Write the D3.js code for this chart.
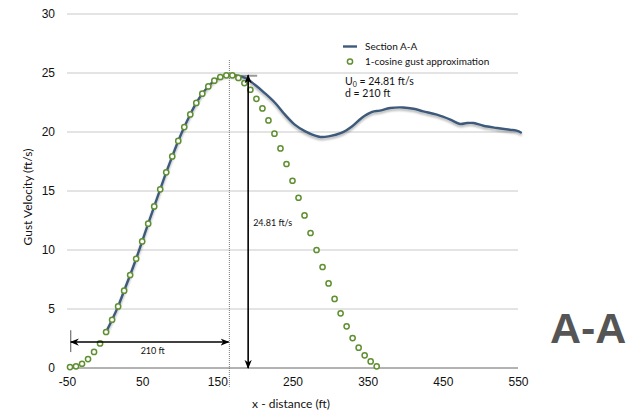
<!DOCTYPE html>
<html>
<head>
<meta charset="utf-8">
<script src="https://cdn.jsdelivr.net/npm/d3@7"></script>
<style>
  body { margin: 0; background: #fff; }
  svg { display: block; font-family: Lato, "Open Sans", sans-serif; }
  .tick text { font-size: 12px; fill: #111; }
</style>
</head>
<body>
<svg id="chart"></svg>
<script>
// 1-cosine approximation (circles)
const cosX = [-46, -38, -30, -22, -14, -6, 2, 10, 18, 26, 34, 42, 50, 58, 66, 74, 82, 90, 98, 106, 114, 122, 130, 138, 146, 154, 162,
  170, 178, 186, 194, 202, 210, 218, 226, 234, 242, 250, 258, 266, 274, 282, 290, 298, 306, 314, 322, 330, 338, 346, 354, 362];
const cosY = [0.08, 0.14, 0.36, 0.76, 1.36, 2.08, 3.05, 4.09, 5.22, 6.55, 7.88, 9.26, 10.73, 12.23, 13.69, 15.14, 16.58, 17.93, 19.24, 20.42, 21.49, 22.46, 23.25, 23.86, 24.35, 24.66, 24.80,
  24.80, 24.58, 24.15, 23.58, 22.81, 22.0, 20.98, 19.86, 18.61, 17.29, 15.87, 14.43, 12.93, 11.44, 10.0, 8.56, 7.17, 5.85, 4.63, 3.53, 2.54, 1.72, 1.07, 0.56, 0.14];

// Section A-A (solid line)
const secX = [2, 10, 18, 26, 34, 42, 50, 58, 66, 74, 82, 90, 98, 106, 114, 122, 130, 138, 146, 154, 162,
  172, 187, 200, 213, 227, 240, 253, 267, 280, 287, 298, 315, 329, 342, 356, 366, 380, 397, 411, 424, 442, 460, 473, 482, 491, 504, 522, 539, 548, 555];
const secY = [3.05, 4.09, 5.22, 6.55, 7.88, 9.26, 10.73, 12.23, 13.69, 15.14, 16.58, 17.93, 19.24, 20.42, 21.49, 22.46, 23.25, 23.86, 24.35, 24.66, 24.82,
  24.81, 24.58, 24.0, 23.3, 22.46, 21.47, 20.63, 20.05, 19.69, 19.58, 19.63, 19.92, 20.47, 21.19, 21.7, 21.81, 22.03, 22.08, 21.97, 21.75, 21.47, 21.05, 20.68, 20.76, 20.76, 20.53, 20.34, 20.19, 20.11, 19.92];

const xTicks = [-50, 50, 150, 250, 350, 450, 550];
const yTicks = [0, 5, 10, 15, 20, 25, 30];

const U0 = 24.81;       // peak gust velocity
const peakX = 166;      // dotted line through the peak
const gustStart = -45;  // start of the 210 ft span
const gustEnd = 165;
const arrowX = 191;     // vertical 24.81 arrow

const width = 635, height = 414;
const margin = { top: 14, right: 117, bottom: 46, left: 67 };
const innerW = width - margin.left - margin.right;
const innerH = height - margin.top - margin.bottom;

const svg = d3.select('#chart').attr('width', width).attr('height', height);

const x = d3.scaleLinear().domain([-50, 550]).range([0, innerW]);
const y = d3.scaleLinear().domain([0, 30]).range([innerH, 0]);

const defs = svg.append('defs');
const shadow = defs.append('filter').attr('id', 'shadow')
  .attr('x', '-5%').attr('y', '-5%').attr('width', '110%').attr('height', '120%');
shadow.append('feDropShadow')
  .attr('dx', 0).attr('dy', 2).attr('stdDeviation', 1.2)
  .attr('flood-color', '#000').attr('flood-opacity', 0.3);

['start', 'end'].forEach(k => {
  defs.append('marker')
    .attr('id', 'arrow-' + k)
    .attr('viewBox', '0 0 10 10')
    .attr('refX', k === 'end' ? 9 : 1).attr('refY', 5)
    .attr('markerWidth', 9).attr('markerHeight', 9)
    .attr('markerUnits', 'userSpaceOnUse')
    .attr('orient', 'auto')
    .append('path')
    .attr('d', k === 'end' ? 'M0,1 L10,5 L0,9 L3,5 Z' : 'M10,1 L0,5 L10,9 L7,5 Z')
    .attr('fill', '#000');
});

const g = svg.append('g').attr('transform', `translate(${margin.left},${margin.top})`);

// gridlines
g.append('g').selectAll('line')
  .data(yTicks.filter(d => d > 0))
  .join('line')
  .attr('x1', 0).attr('x2', innerW)
  .attr('y1', d => y(d)).attr('y2', d => y(d))
  .attr('stroke', '#c8c8c8').attr('stroke-width', 1);

// baseline
g.append('line')
  .attr('x1', 0).attr('x2', innerW)
  .attr('y1', y(0)).attr('y2', y(0))
  .attr('stroke', '#666').attr('stroke-width', 1);

// axes
const yAxisG = g.append('g')
  .call(d3.axisLeft(y).tickValues(yTicks).tickSize(0).tickPadding(12).tickFormat(d => String(d)));
yAxisG.select('.domain').remove();

const xAxisG = g.append('g')
  .attr('transform', `translate(0,${innerH})`)
  .call(d3.axisBottom(x).tickValues(xTicks).tickSize(0).tickPadding(9).tickFormat(d => String(d)));
xAxisG.select('.domain').remove();

// axis titles
svg.append('text')
  .attr('transform', `translate(32,197) rotate(-90)`)
  .attr('text-anchor', 'middle')
  .attr('font-size', 12).attr('fill', '#111')
  .text('Gust Velocity (ft/s)');

svg.append('text')
  .attr('x', 291).attr('y', 408)
  .attr('text-anchor', 'middle')
  .attr('font-size', 12).attr('fill', '#111')
  .text('x - distance (ft)');

// dotted peak line
g.append('line')
  .attr('x1', x(peakX)).attr('x2', x(peakX))
  .attr('y1', y(26.1)).attr('y2', y(-1.6))
  .attr('stroke', '#777').attr('stroke-width', 1)
  .attr('stroke-dasharray', '1,1');

// short grey line at peak
g.append('line')
  .attr('x1', x(peakX)).attr('x2', x(203))
  .attr('y1', y(U0) + 0.5).attr('y2', y(U0) + 0.5)
  .attr('stroke', '#999').attr('stroke-width', 2);

// section line
const secData = secX.map((d, i) => ({ x: d, y: secY[i] }));
const line = d3.line().x(d => x(d.x)).y(d => y(d.y)).curve(d3.curveCatmullRom);
g.append('path')
  .datum(secData)
  .attr('d', line)
  .attr('fill', 'none')
  .attr('stroke', '#3d5a7a')
  .attr('stroke-width', 2.4)
  .attr('filter', 'url(#shadow)');

// 1-cosine circles
const cosData = cosX.map((d, i) => ({ x: d, y: cosY[i] }));
g.append('g').selectAll('circle')
  .data(cosData)
  .join('circle')
  .attr('cx', d => x(d.x)).attr('cy', d => y(d.y))
  .attr('r', 2.6)
  .attr('fill', '#fff')
  .attr('stroke', '#5e8f30')
  .attr('stroke-width', 1.5);

// vertical 24.81 arrow
g.append('line')
  .attr('x1', x(arrowX)).attr('x2', x(arrowX))
  .attr('y1', y(U0)).attr('y2', y(0))
  .attr('stroke', '#000').attr('stroke-width', 1.6)
  .attr('marker-start', 'url(#arrow-start)')
  .attr('marker-end', 'url(#arrow-end)');

g.append('text')
  .attr('x', x(arrowX) + 5).attr('y', y(12.06))
  .attr('font-size', 9).attr('fill', '#111')
  .text('24.81 ft/s');

// horizontal 210 ft arrow
g.append('line')
  .attr('x1', x(gustStart)).attr('x2', x(gustStart))
  .attr('y1', y(3.2)).attr('y2', y(1.35))
  .attr('stroke', '#555').attr('stroke-width', 1);

g.append('line')
  .attr('x1', x(gustStart)).attr('x2', x(gustEnd))
  .attr('y1', y(2.2)).attr('y2', y(2.2))
  .attr('stroke', '#000').attr('stroke-width', 1.6)
  .attr('marker-start', 'url(#arrow-start)')
  .attr('marker-end', 'url(#arrow-end)');

g.append('text')
  .attr('x', x(64)).attr('y', y(1.2))
  .attr('text-anchor', 'middle')
  .attr('font-size', 9).attr('fill', '#111')
  .text('210 ft');

// legend
const legend = svg.append('g');
legend.append('line')
  .attr('x1', 343).attr('x2', 357).attr('y1', 46.5).attr('y2', 46.5)
  .attr('stroke', '#3d5a7a').attr('stroke-width', 2.4);
legend.append('text')
  .attr('x', 365).attr('y', 50)
  .attr('font-size', 10).attr('fill', '#111')
  .text('Section A-A');
legend.append('circle')
  .attr('cx', 350).attr('cy', 61.5).attr('r', 2.6)
  .attr('fill', '#fff').attr('stroke', '#5e8f30').attr('stroke-width', 1.5);
legend.append('text')
  .attr('x', 365).attr('y', 65)
  .attr('font-size', 10).attr('fill', '#111')
  .text('1-cosine gust approximation');

// U0 / d note
const note = svg.append('text')
  .attr('x', 345).attr('y', 85)
  .attr('font-size', 10.5).attr('fill', '#111');
note.append('tspan').text('U');
note.append('tspan').attr('font-size', 7).attr('dy', 2).text('0');
note.append('tspan').attr('dy', -2).text(' = 24.81 ft/s');
svg.append('text')
  .attr('x', 345).attr('y', 97)
  .attr('font-size', 10.5).attr('fill', '#111')
  .text('d = 210 ft');

// big section label
svg.append('text')
  .attr('x', 550).attr('y', 343)
  .attr('font-family', '"Liberation Sans", Arial, sans-serif')
  .attr('font-weight', 'bold')
  .attr('font-size', 43)
  .attr('fill', '#555')
  .text('A-A');
</script>
</body>
</html>
